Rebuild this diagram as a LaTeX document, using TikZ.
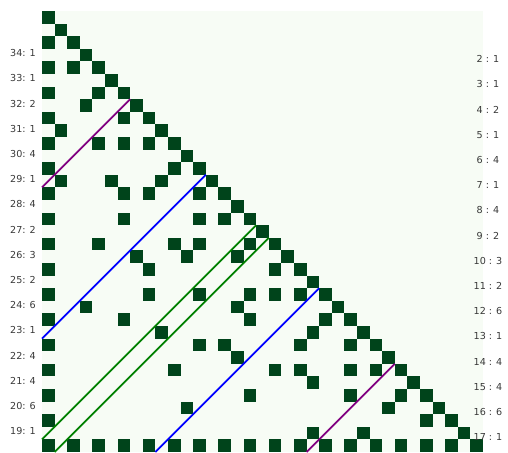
\documentclass[tikz,border=0pt]{standalone}
\usepackage{fontspec}
\setmainfont{DejaVu Sans}
\definecolor{bggreen}{HTML}{F7FCF5}
\definecolor{cellgreen}{HTML}{00441B}
\definecolor{lblgray}{HTML}{383838}
\definecolor{mpurple}{HTML}{800080}
\definecolor{mblue}{HTML}{0000FF}
\definecolor{mgreen}{HTML}{008000}
\tikzset{
  cellfill/.style={fill=cellgreen},
  diagline/.style={line width=1.8pt},
  lbl/.style={text=lblgray, inner sep=0pt, font=\fontsize{9.6}{11}\selectfont},
}
\begin{document}
\begin{tikzpicture}[x=1pt,y=-1pt]
\useasboundingbox (0,0) rectangle (508,452);
\fill[bggreen] (42,11) rectangle (483,452);
\begin{scope}[shift={(42pt,-11pt)}, x=12.6pt, y=-12.6pt]
\foreach \r/\cs in {0/{0},1/{1},2/{0,2},3/{3},4/{0,2,4},5/{5},6/{0,4,6},7/{3,7},8/{0,6,8},9/{1,9},
 10/{0,4,6,8,10},11/{11},12/{0,10,12},13/{1,5,9,13},14/{0,6,8,12,14},15/{15},16/{0,6,12,14,16},17/{17},
 18/{0,4,10,12,16,18},19/{7,11,15,19},20/{0,8,18,20},21/{21},22/{0,8,12,16,18,20,22},23/{3,15,23},
 24/{0,6,16,22,24},25/{9,21,25},26/{0,12,14,20,24,26},27/{15,27},28/{0,10,18,20,24,26,28},29/{21,29},
 30/{0,16,24,28,30},31/{11,27,31},32/{0,30,32},33/{21,25,33},34/{0,2,4,6,8,10,12,14,16,18,20,22,24,26,28,30,32,34}}
 {\foreach \c in \cs {\fill[cellfill] (\c,\r) rectangle ++(1,1);}}
\coordinate (p1a) at (0,14); \coordinate (p1b) at (7,7);
\coordinate (b1a) at (0,26); \coordinate (b1b) at (13,13);
\coordinate (g1a) at (0,34); \coordinate (g1b) at (17,17);
\coordinate (g2a) at (1,35); \coordinate (g2b) at (18,18);
\coordinate (b2a) at (9,35); \coordinate (b2b) at (22,22);
\coordinate (p2a) at (21,35); \coordinate (p2b) at (28,28);
\draw[diagline, mpurple] (p1a) -- (p1b);
\draw[diagline, mblue] (b1a) -- (b1b);
\draw[diagline, mgreen] (g1a) -- (g1b);
\draw[diagline, mgreen] (g2a) -- (g2b);
\draw[diagline, mblue] (b2a) -- (b2b);
\draw[diagline, mpurple] (p2a) -- (p2b);
\end{scope}
\foreach \k/\t in {0/{34: 1},1/{33: 1},2/{32: 2},3/{31: 1},4/{30: 4},5/{29: 1},6/{28: 4},7/{27: 2},
 8/{26: 3},9/{25: 2},10/{24: 6},11/{23: 1},12/{22: 4},13/{21: 4},14/{20: 6},15/{19: 1}}
 {\node[lbl, anchor=east] (L\k) at (36, 53.3+25.2*\k) {\t};}
\foreach \k/\t in {0/{2 : 1},1/{3 : 1},2/{4 : 2},3/{5 : 1},4/{6 : 4},5/{7 : 1},6/{8 : 4},7/{9 : 2},
 8/{10 : 3},9/{11 : 2},10/{12 : 6},11/{13 : 1},12/{14 : 4},13/{15 : 4},14/{16 : 6},15/{17 : 1}}
 {\node[lbl, anchor=center] (R\k) at (488, 59.3+25.2*\k) {\t};}
\end{tikzpicture}
\end{document}
